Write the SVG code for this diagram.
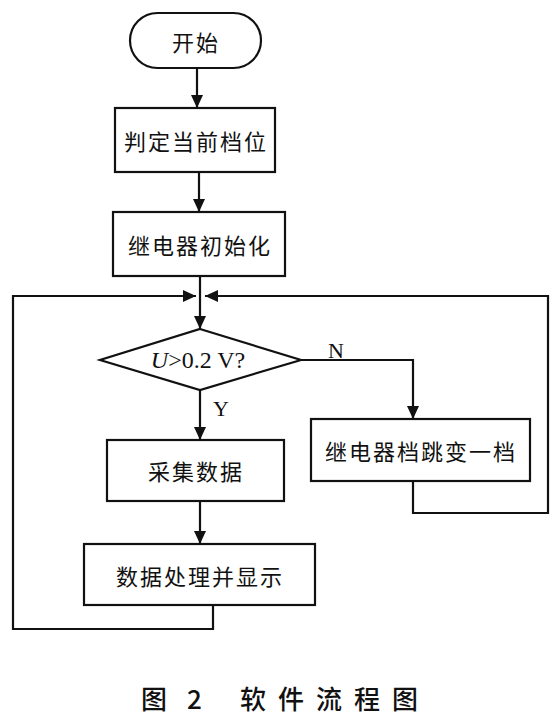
<svg xmlns="http://www.w3.org/2000/svg" width="557" height="725" viewBox="0 0 557 725">
<style>
.shape{fill:#fff;stroke:#111;stroke-width:2.2}
.line{fill:none;stroke:#111;stroke-width:2.2}
.cn{font-family:"Noto Sans CJK SC","Noto Sans",sans-serif;font-size:22px;fill:#111;text-anchor:middle;dominant-baseline:central;letter-spacing:2px}
.lat{font-family:"Liberation Serif",serif;fill:#111}
.cap{font-family:"Noto Sans CJK SC","Noto Sans",sans-serif;font-size:26px;font-weight:500;fill:#111}
</style>
<defs>
<marker id="ah" viewBox="0 0 13 12" markerWidth="13" markerHeight="12" refX="13" refY="6" orient="auto" markerUnits="userSpaceOnUse">
<path d="M0,0 L13,6 L0,12 z" fill="#111"/>
</marker>
</defs>
<rect width="557" height="725" fill="#fff"/>
<g id="connectors">
<line class="line" x1="197" y1="68" x2="197" y2="108" marker-end="url(#ah)"/>
<line class="line" x1="199" y1="172" x2="199" y2="212" marker-end="url(#ah)"/>
<line class="line" x1="200" y1="276" x2="200" y2="329" marker-end="url(#ah)"/>
<line class="line" x1="200" y1="390" x2="200" y2="440" marker-end="url(#ah)"/>
<line class="line" x1="200" y1="501" x2="200" y2="544" marker-end="url(#ah)"/>
<polyline class="line" points="301,360 413,360 413,419" marker-end="url(#ah)"/>
<polyline class="line" points="213,605 213,629 13,629 13,296 196,296" marker-end="url(#ah)"/>
<polyline class="line" points="413,481 413,513 548,513 548,296 205,296" marker-end="url(#ah)"/>
<text class="lat" x="336" y="358" font-size="22" text-anchor="middle">N</text>
<text class="lat" x="221" y="416" font-size="22" text-anchor="middle">Y</text>
</g>
<g id="start">
<rect class="shape" x="130" y="13" width="131" height="55" rx="27.5" ry="27.5"/>
<text class="cn" x="196" y="41">开始</text>
</g>
<g id="judge">
<rect class="shape" x="115" y="108" width="160" height="64"/>
<text class="cn" x="196" y="140">判定当前档位</text>
</g>
<g id="init">
<rect class="shape" x="113" y="212" width="172" height="64"/>
<text class="cn" x="200" y="244">继电器初始化</text>
</g>
<g id="decision">
<polygon class="shape" points="200,329 301,360 200,390 100,360"/>
<text class="lat" x="198" y="368" font-size="24" text-anchor="middle"><tspan font-style="italic">U</tspan>&gt;0.2 V?</text>
</g>
<g id="switch">
<rect class="shape" x="311" y="419" width="219" height="62"/>
<text class="cn" x="421" y="450">继电器档跳变一档</text>
</g>
<g id="collect">
<rect class="shape" x="107" y="440" width="177" height="61"/>
<text class="cn" x="196" y="470">采集数据</text>
</g>
<g id="process">
<rect class="shape" x="84" y="544" width="231" height="61"/>
<text class="cn" x="200" y="575">数据处理并显示</text>
</g>
<g id="caption">
<text class="cap" x="141" y="709">图</text>
<text class="cap" x="187" y="709" font-family="Liberation Serif,serif">2</text>
<text class="cap" x="240" y="709" letter-spacing="12">软件流程图</text>
</g>
</svg>
